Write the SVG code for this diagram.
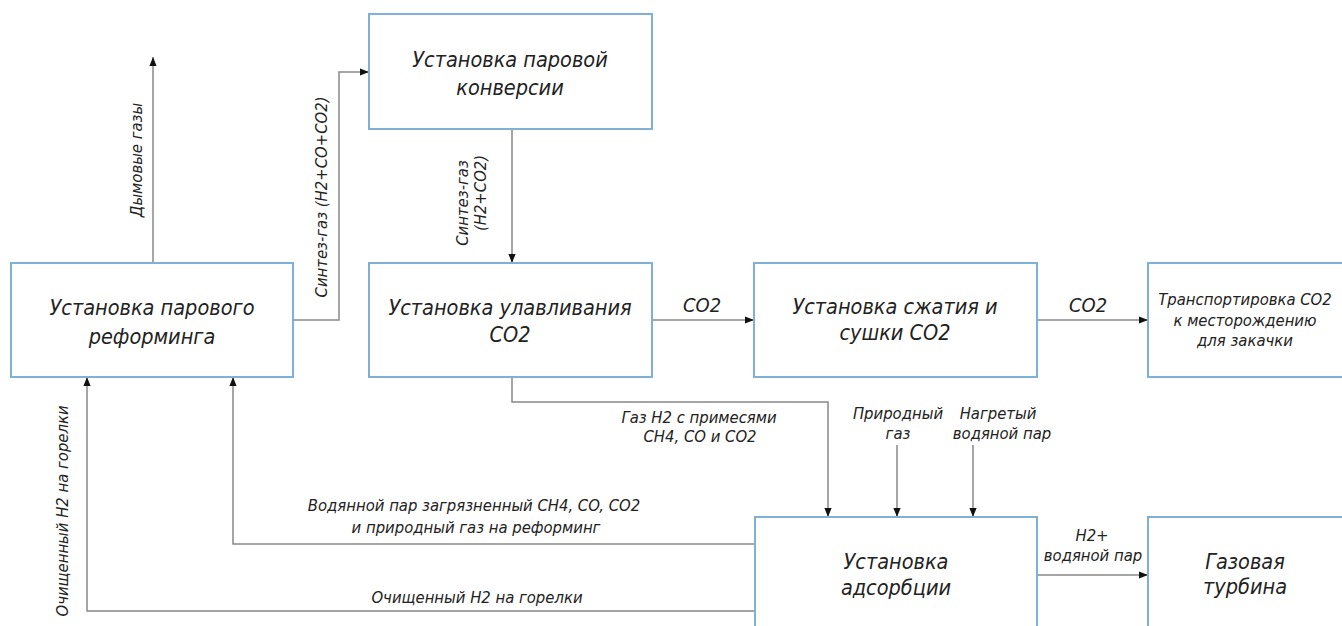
<svg xmlns="http://www.w3.org/2000/svg" width="1342" height="626" viewBox="0 0 1342 626">
<defs>
<marker id="ah" viewBox="0 0 10 10" refX="10" refY="5" markerWidth="9" markerHeight="9" markerUnits="userSpaceOnUse" orient="auto">
<path d="M0,1 L10,5 L0,9 z" fill="#111"/>
</marker>
<style>
.box{fill:#fff;stroke:#7fb0d6;stroke-width:2}
.bt{font-family:"Liberation Sans Narrow","DejaVu Sans Condensed","Liberation Sans",sans-serif;font-style:italic;font-size:21.5px;fill:#222;text-anchor:middle}
.st{font-size:16.5px}
.lt{font-family:"Liberation Sans Narrow","DejaVu Sans Condensed","Liberation Sans",sans-serif;font-style:italic;font-size:16.5px;fill:#222;text-anchor:middle}
.co{font-size:20px}
.c{fill:none;stroke:#888;stroke-width:1.5}
.ca{fill:none;stroke:#888;stroke-width:1.5;marker-end:url(#ah)}
</style>
</defs>
<rect width="1342" height="626" fill="#fff"/>

<g id="connectors">
<path class="ca" d="M153,263 V57"/>
<path class="ca" d="M293,320 H339 V72 H369"/>
<path class="ca" d="M512,129 V263"/>
<path class="ca" d="M652,320 H754"/>
<path class="ca" d="M1037,320 H1148"/>
<path class="ca" d="M512,377 V402 H828 V517"/>
<path class="ca" d="M897,445 V517"/>
<path class="ca" d="M973,445 V517"/>
<path class="ca" d="M1037,575 H1148"/>
<path class="ca" d="M755,544 H233 V377"/>
<path class="ca" d="M755,611 H87 V377"/>
</g>

<g id="labels">
<text class="lt" transform="translate(142,160) rotate(-90)">Дымовые газы</text>
<text class="lt" transform="translate(327,197) rotate(-90)">Синтез-газ (H2+CO+CO2)</text>
<text class="lt" transform="translate(468,203) rotate(-90)">Синтез-газ</text>
<text class="lt" transform="translate(486,193) rotate(-90)">(H2+CO2)</text>
<text class="lt co" x="702" y="312">CO2</text>
<text class="lt co" x="1088" y="312">CO2</text>
<text class="lt" x="699" y="423">Газ H2 с примесями</text>
<text class="lt" x="700" y="442">CH4, CO и CO2</text>
<text class="lt" x="898" y="419">Природный</text>
<text class="lt" x="898" y="439">газ</text>
<text class="lt" x="998" y="419">Нагретый</text>
<text class="lt" x="1002" y="439">водяной пар</text>
<text class="lt" x="1092" y="541">H2+</text>
<text class="lt" x="1093" y="561">водяной пар</text>
<text class="lt" x="474" y="511">Водянной пар загрязненный CH4, CO, CO2</text>
<text class="lt" x="476" y="533">и природный газ на реформинг</text>
<text class="lt" x="477" y="603">Очищенный H2 на горелки</text>
<text class="lt" transform="translate(68,511) rotate(-90)">Очищенный H2 на горелки</text>
</g>

<g id="n-reforming">
<rect class="box" x="11" y="263" width="282" height="114"/>
<text class="bt" x="152" y="315">Установка парового</text>
<text class="bt" x="152" y="344">реформинга</text>
</g>
<g id="n-conversion">
<rect class="box" x="369" y="14" width="283" height="115"/>
<text class="bt" x="510" y="67">Установка паровой</text>
<text class="bt" x="510" y="95">конверсии</text>
</g>
<g id="n-capture">
<rect class="box" x="369" y="263" width="283" height="114"/>
<text class="bt" x="510" y="315">Установка улавливания</text>
<text class="bt" x="510" y="342">CO2</text>
</g>
<g id="n-compression">
<rect class="box" x="754" y="263" width="283" height="114"/>
<text class="bt" x="895" y="314">Установка сжатия и</text>
<text class="bt" x="895" y="340">сушки CO2</text>
</g>
<g id="n-transport">
<rect class="box" x="1148" y="263" width="196" height="114"/>
<text class="bt st" x="1245" y="305">Транспортировка CO2</text>
<text class="bt st" x="1245" y="326">к месторождению</text>
<text class="bt st" x="1245" y="346">для закачки</text>
</g>
<g id="n-adsorption">
<rect class="box" x="755" y="517" width="282" height="120"/>
<text class="bt" x="896" y="569">Установка</text>
<text class="bt" x="896" y="595">адсорбции</text>
</g>
<g id="n-turbine">
<rect class="box" x="1148" y="517" width="196" height="120"/>
<text class="bt" x="1245" y="569">Газовая</text>
<text class="bt" x="1245" y="594">турбина</text>
</g>
</svg>
